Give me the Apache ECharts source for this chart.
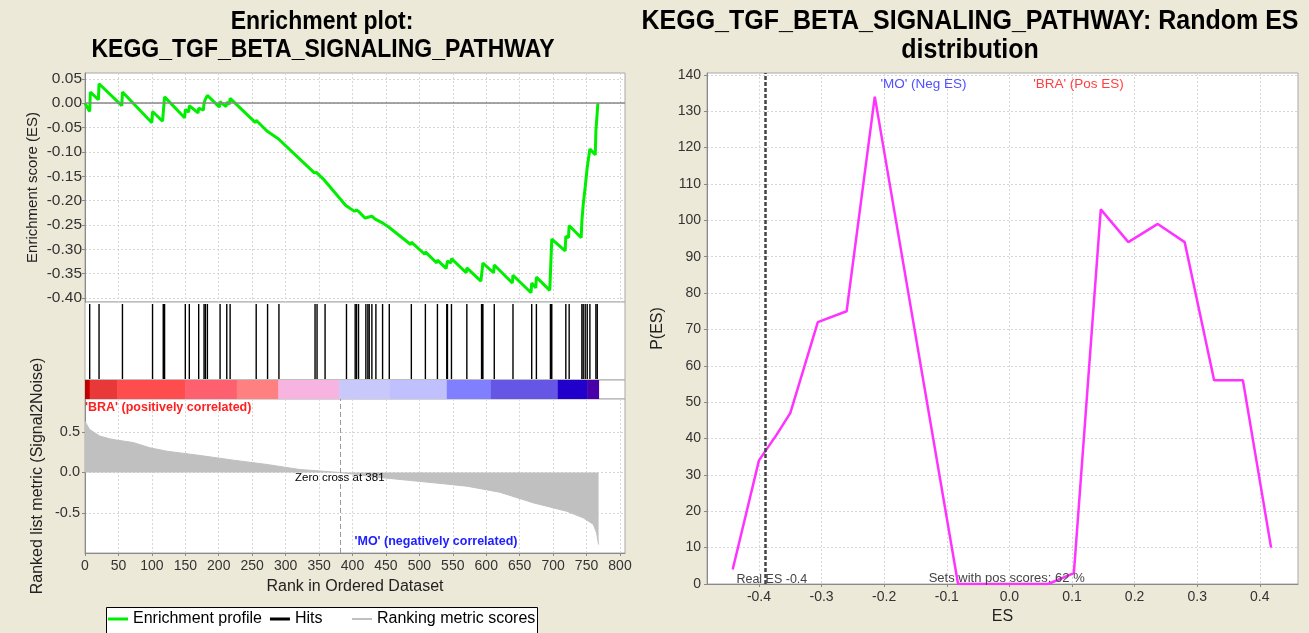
<!DOCTYPE html>
<html><head><meta charset="utf-8">
<script src="https://cdn.jsdelivr.net/npm/echarts@6/dist/echarts.min.js"></script>
<style>html,body{margin:0;padding:0;background:#ECE9D8;}#c{width:1309px;height:633px;}</style>
</head><body><div id="c"></div>
<script>
// ---------- DATA ----------
const esRank = [0,7,8,20,21,55,56,100,101,116,119,149,150,155,156,169,170,177,178,180,183,201,202,211,212,216,217,255,256,272,273,289,290,343,344,346,347,358,359,390,391,403,406,409,419,420,423,425,429,434,435,444,445,454,455,487,488,508,509,526,527,540,542,547,548,570,571,592,595,611,612,639,640,667,668,674,675,695,698,718,719,723,724,742,743,745,748,751,755,763,764,767];
const esValue = [0.000,-0.017,0.023,0.007,0.040,-0.005,0.023,-0.040,-0.017,-0.037,0.013,-0.030,-0.013,-0.018,-0.005,-0.020,-0.010,-0.014,0.000,0.008,0.016,-0.008,0.003,-0.007,0.002,-0.002,0.010,-0.040,-0.035,-0.057,-0.053,-0.073,-0.069,-0.143,-0.140,-0.142,-0.139,-0.158,-0.155,-0.210,-0.206,-0.222,-0.219,-0.222,-0.236,-0.232,-0.234,-0.230,-0.232,-0.238,-0.235,-0.245,-0.242,-0.254,-0.250,-0.290,-0.285,-0.310,-0.305,-0.328,-0.322,-0.339,-0.324,-0.328,-0.319,-0.348,-0.338,-0.365,-0.328,-0.348,-0.332,-0.369,-0.353,-0.389,-0.369,-0.379,-0.357,-0.384,-0.279,-0.303,-0.273,-0.276,-0.251,-0.276,-0.242,-0.208,-0.172,-0.132,-0.094,-0.106,-0.057,0.000];
const hitRanks = [7,21,56,101,117,118,119,150,156,170,178,180,183,202,212,217,256,273,290,344,347,359,391,404,406,409,420,423,425,429,435,445,455,488,509,527,541,542,548,571,593,594,595,612,640,668,675,696,697,698,719,724,743,745,748,751,755,764,766];
const metricRank  = [0,2,7,22,37,47,72,97,122,172,222,272,321,381,446,521,571,620,670,720,745,760,765,768];
const metricValue = [0.63,0.60,0.53,0.45,0.415,0.40,0.37,0.305,0.263,0.21,0.152,0.099,0.037,0.0,-0.066,-0.127,-0.169,-0.243,-0.374,-0.478,-0.56,-0.64,-0.745,-0.89];
const colorBarStart = [0,7,48,150,227,289,380,456,541,607,707,751];
const colorBarEnd   = [7,48,150,227,289,380,456,541,607,707,751,768];
const zeroCross = 381;
const rankTicks = [0,50,100,150,200,250,300,350,400,450,500,550,600,650,700,750,800];
const esTicks = [-0.40,-0.35,-0.30,-0.25,-0.20,-0.15,-0.10,-0.05,0.00,0.05];
const metricTicks = [-0.5,0.0,0.5];
const randEs = [-0.442,-0.400,-0.372,-0.350,-0.306,-0.260,-0.215,-0.082,0.062,0.103,0.146,0.190,0.237,0.280,0.327,0.373,0.418];
const randP  = [4,34,41,47,72,75,134,0,0,3,103,94,99,94,56,56,10];
const randEsTicks = [-0.4,-0.3,-0.2,-0.1,0.0,0.1,0.2,0.3,0.4];
const randPTicks = [0,10,20,30,40,50,60,70,80,90,100,110,120,130,140];
const realES = -0.386;
const posPercent = 62;

// ---------- STYLE ----------
const colorBarColors = ['#c00000','#e83838','#ff4c4c','#ff6070','#ff8080','#f8b4e0','#c8c8fa','#c0c0ff','#8080ff','#6656e6','#2200cc','#4a00a8'];
const FONT = '"Liberation Sans", Arial, sans-serif';
const splitL = {show:true, lineStyle:{color:'#d6d6d6', type:[2,2], width:1}};
const axLine = {show:true, onZero:false, lineStyle:{color:'#8a8a8a', width:1}};
const lbl = (vals, fmt, size, margin) => ({show:true, customValues:vals, formatter:fmt, fontFamily:FONT, fontSize:size||14, color:'#333', margin:margin||6});
const tick = (vals, show) => ({show:show, customValues:vals, length:3, lineStyle:{color:'#8a8a8a'}});
const nameStyle = {fontFamily:FONT, fontSize:16, color:'#222'};
const titleText = (x, y, text, size, sy) => ({type:'text', x:x, y:y, scaleY:sy, style:{text:text, font:'bold '+size+'px '+FONT, fill:'#000', textAlign:'center', textVerticalAlign:'middle'}});

const chart = echarts.init(document.getElementById('c'));
const option = {
  animation:false,
  backgroundColor:'#ECE9D8',
  graphic:[
    titleText(322, 22, 'Enrichment plot:', 23, 1.15),
    titleText(323, 50, 'KEGG_TGF_BETA_SIGNALING_PATHWAY', 23, 1.15),
    titleText(970, 22, 'KEGG_TGF_BETA_SIGNALING_PATHWAY: Random ES', 25, 1.08),
    titleText(970, 51, 'distribution', 25, 1.08),
    {type:'rect', z:0, shape:{x:106.5, y:607.5, width:431, height:32}, style:{fill:'#fff', stroke:'#000', lineWidth:1}}
  ],
  legend:[
    {left:108, top:611, padding:0, itemGap:8, itemWidth:20, itemHeight:3, selectedMode:false,
      textStyle:{fontFamily:FONT, fontSize:16, color:'#000'},
      data:[{name:'Enrichment profile', icon:'rect'},{name:'Hits', icon:'rect'}]},
    {left:352, top:611, padding:0, itemWidth:20, itemHeight:2, selectedMode:false,
      textStyle:{fontFamily:FONT, fontSize:16, color:'#000'},
      data:[{name:'Ranking metric scores', icon:'rect'}]}
  ],
  grid:[
    {left:85, top:73, width:540, height:229, show:true, backgroundColor:'#fff', borderColor:'#a8a8a8'},
    {left:85, top:302, width:540, height:78, show:true, backgroundColor:'#fff', borderColor:'#a8a8a8'},
    {left:85, top:380, width:540, height:19, show:true, backgroundColor:'#fff', borderColor:'#a8a8a8'},
    {left:85, top:399, width:540, height:154, show:true, backgroundColor:'#fff', borderColor:'#a8a8a8'},
    {left:707, top:73, width:591, height:511, show:true, backgroundColor:'#fff', borderColor:'#a8a8a8'}
  ],
  xAxis:[
    {gridIndex:0, type:'value', min:0, max:807.5, axisLine:{show:false}, axisTick:tick(rankTicks,false), axisLabel:{show:false, customValues:rankTicks}, splitLine:splitL},
    {gridIndex:1, type:'value', min:0, max:807.5, axisLine:{show:false}, axisTick:{show:false}, axisLabel:{show:false}, splitLine:{show:false}},
    {gridIndex:2, type:'value', min:0, max:807.5, axisLine:{show:false}, axisTick:{show:false}, axisLabel:{show:false}, splitLine:{show:false}},
    {gridIndex:3, type:'value', min:0, max:807.5, axisLine:axLine, axisTick:tick(rankTicks,true), axisLabel:lbl(rankTicks, v=>String(v)), splitLine:splitL,
      name:'Rank in Ordered Dataset', nameLocation:'middle', nameGap:26, nameTextStyle:nameStyle},
    {gridIndex:4, type:'value', min:-0.483, max:0.461, axisLine:axLine, axisTick:tick(randEsTicks,true), axisLabel:lbl(randEsTicks, v=>v.toFixed(1)), splitLine:splitL,
      name:'ES', nameLocation:'middle', nameGap:25, nameTextStyle:nameStyle}
  ],
  yAxis:[
    {gridIndex:0, type:'value', min:-0.408, max:0.062, axisLine:axLine, axisTick:tick(esTicks,true), axisLabel:lbl(esTicks, v=>v.toFixed(2), 15.5, 3), splitLine:splitL,
      name:'Enrichment score (ES)', nameLocation:'middle', nameGap:45, nameTextStyle:Object.assign({}, nameStyle, {fontSize:15})},
    {gridIndex:1, type:'value', min:0, max:1, axisLine:{show:false}, axisTick:{show:false}, axisLabel:{show:false}, splitLine:{show:false}},
    {gridIndex:2, type:'value', min:0, max:1, axisLine:{show:false}, axisTick:{show:false}, axisLabel:{show:false}, splitLine:{show:false}},
    {gridIndex:3, type:'value', min:-0.994, max:0.907, axisLine:axLine, axisTick:tick(metricTicks,true), axisLabel:lbl(metricTicks, v=>v.toFixed(1), 14.5, 5), splitLine:splitL,
      name:'Ranked list metric (Signal2Noise)', nameLocation:'middle', nameGap:39, nameTextStyle:nameStyle},
    {gridIndex:4, type:'value', min:0, max:140.5, axisLine:axLine, axisTick:tick(randPTicks,true), axisLabel:lbl(randPTicks, v=>String(v)), splitLine:splitL,
      name:'P(ES)', nameLocation:'middle', nameGap:41, nameTextStyle:nameStyle}
  ],
  series:[
    {name:'Enrichment profile', type:'line', xAxisIndex:0, yAxisIndex:0, symbol:'none', color:'#00ee00',
      lineStyle:{color:'#00ee00', width:3}, data:esRank.map((r,i)=>[r, esValue[i]]),
      markLine:{silent:true, symbol:'none', label:{show:false}, lineStyle:{color:'#888', type:'solid', width:1.5}, data:[{yAxis:0}]}},
    {name:'Hits', type:'custom', xAxisIndex:1, yAxisIndex:1, itemStyle:{color:'#000'},
      data:hitRanks.map(r=>[r]),
      encode:{x:0},
      renderItem:(params, api)=>{
        const x = api.value(0);
        const p0 = api.coord([x, 0]);
        const p1 = api.coord([x, 1]);
        return {type:'line', shape:{x1:p0[0], y1:p0[1]-1, x2:p1[0], y2:p1[1]+2}, style:{stroke:'#000', lineWidth:1.4}};
      }},
    {name:'colorbar', type:'custom', xAxisIndex:2, yAxisIndex:2,
      data:colorBarStart.map((s,i)=>[s, colorBarEnd[i], i]),
      encode:{x:[0,1]},
      renderItem:(params, api)=>{
        const a = api.coord([api.value(0), 1]);
        const b = api.coord([api.value(1), 0]);
        return {type:'rect', shape:{x:a[0], y:a[1], width:b[0]-a[0]+0.5, height:b[1]-a[1]}, style:{fill:colorBarColors[api.value(2)]}};
      }},
    {name:'Ranking metric scores', type:'line', xAxisIndex:3, yAxisIndex:3, symbol:'none', color:'#c0c0c0',
      lineStyle:{color:'#c0c0c0', width:1}, areaStyle:{color:'#c0c0c0', opacity:1},
      data:metricRank.map((r,i)=>[r, metricValue[i]]),
      markLine:{silent:true, symbol:'none', label:{show:false}, lineStyle:{color:'#999', type:[5,3], width:1}, data:[{xAxis:zeroCross}]},
      markPoint:{silent:true, symbolSize:0, data:[
        {coord:[0, 0.80], label:{show:true, position:'right', distance:0, formatter:"'BRA' (positively correlated)", color:'#ff2020', fontFamily:FONT, fontSize:12.5, fontWeight:'bold'}},
        {coord:[zeroCross, 0], label:{show:true, position:'bottom', distance:-1, formatter:'Zero cross at '+zeroCross, color:'#000', fontFamily:FONT, fontSize:11.5}},
        {coord:[403, -0.85], label:{show:true, position:'right', distance:0, formatter:"'MO' (negatively correlated)", color:'#2020ff', fontFamily:FONT, fontSize:12.5, fontWeight:'bold'}}
      ]}},
    {name:'Random ES', type:'line', xAxisIndex:4, yAxisIndex:4, symbol:'none', color:'#ff33ff',
      lineStyle:{color:'#ff33ff', width:2.5}, data:randEs.map((e,i)=>[e, randP[i]]),
      markLine:{silent:true, symbol:'none', label:{show:false}, lineStyle:{color:'#444', type:[4,2], width:2.5}, data:[{xAxis:realES}]},
      markPoint:{silent:true, symbolSize:0, data:[
        {coord:[-0.206, 137.5], label:{show:true, position:'right', distance:0, formatter:"'MO' (Neg ES)", color:'#5050ff', fontFamily:FONT, fontSize:13.5}},
        {coord:[0.038, 137.5], label:{show:true, position:'right', distance:0, formatter:"'BRA' (Pos ES)", color:'#ff4040', fontFamily:FONT, fontSize:13.5}},
        {coord:[-0.436, 1.1], label:{show:true, position:'right', distance:0, formatter:'Real ES -0.4', color:'#444', fontFamily:FONT, fontSize:12.5}},
        {coord:[-0.129, 1.6], label:{show:true, position:'right', distance:0, formatter:'Sets with pos scores: '+posPercent+' %', color:'#444', fontFamily:FONT, fontSize:13}}
      ]}}
  ]
};
chart.setOption(option);
</script>
</body></html>
